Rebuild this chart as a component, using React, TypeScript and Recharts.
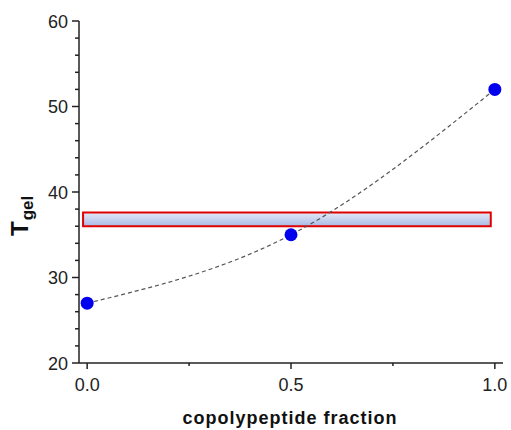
import React from "react";
import { ComposedChart, Line, XAxis, YAxis, ReferenceArea } from "recharts";

const fractions = [0, 0.5, 1];
const tgel = [27, 35, 52];
const xTicks = [0, 0.25, 0.5, 0.75, 1];
const xMajor = [0, 0.5, 1];
const yTicks = [20, 22, 24, 26, 28, 30, 32, 34, 36, 38, 40, 42, 44, 46, 48, 50, 52, 54, 56, 58, 60];
const yMajor = [20, 30, 40, 50, 60];
const bandX = [-0.01, 0.99];
const bandY = [36, 37.6];

const data = fractions.map((x, i) => ({ x, y: tgel[i] }));

const FONT = "Arial, 'Liberation Sans', Helvetica, sans-serif";

const XTick = (props: any) => {
  const { x, y, payload } = props;
  const v = payload.value;
  const major = xMajor.includes(v);
  return (
    <g>
      <line x1={x} x2={x} y1={y} y2={y + (major ? 6 : 3)} stroke="#222" strokeWidth={1.5} />
      {major && (
        <text x={x} y={y + 28} textAnchor="middle" fontSize={18} fontFamily={FONT} fill="#222">
          {v.toFixed(1)}
        </text>
      )}
    </g>
  );
};

const YTick = (props: any) => {
  const { x, y, payload } = props;
  const v = payload.value;
  const major = yMajor.includes(v);
  return (
    <g>
      <line x1={x} x2={x - (major ? 7 : 4)} y1={y} y2={y} stroke="#222" strokeWidth={1.5} />
      {major && (
        <text x={x - 11} y={y + 6.5} textAnchor="end" fontSize={18} fontFamily={FONT} fill="#222">
          {v}
        </text>
      )}
    </g>
  );
};

const YLabel = () => (
  <text
    transform="translate(28, 236) rotate(-90)"
    fontFamily={FONT}
    fontWeight="bold"
    fill="#111"
  >
    <tspan fontSize={24}>T</tspan>
    <tspan fontSize={17} dx={1} dy={5}>gel</tspan>
  </text>
);

const XLabel = () => (
  <text
    x={290}
    y={424}
    textAnchor="middle"
    fontFamily={FONT}
    fontWeight="bold"
    fontSize={18}
    letterSpacing={1}
    fill="#111"
  >
    copolypeptide fraction
  </text>
);

export default function App() {
  return (
    <div style={{ position: "absolute", left: 0, top: 0, width: 511, height: 430, background: "#fff" }}>
      <ComposedChart
        width={511}
        height={430}
        data={data}
        margin={{ top: 21, right: 8, bottom: 0, left: 0 }}
      >
        <defs>
          <linearGradient id="bandGrad" x1="0" y1="0" x2="0" y2="1">
            <stop offset="0%" stopColor="#e4eaf7" />
            <stop offset="100%" stopColor="#a9b9e4" />
          </linearGradient>
        </defs>
        <XAxis
          dataKey="x"
          type="number"
          domain={[-0.02, 1.02]}
          ticks={xTicks}
          allowDataOverflow
          height={67}
          tickSize={0}
          tickMargin={0}
          tickLine={false}
          axisLine={{ stroke: "#222", strokeWidth: 1.5 }}
          tick={<XTick />}
          interval={0}
          label={{ content: () => <XLabel /> }}
        />
        <YAxis
          type="number"
          domain={[20, 60]}
          ticks={yTicks}
          allowDataOverflow
          width={79}
          tickSize={0}
          tickMargin={0}
          tickLine={false}
          axisLine={{ stroke: "#222", strokeWidth: 1.5 }}
          tick={<YTick />}
          interval={0}
          label={{ content: () => <YLabel /> }}
        />
        <ReferenceArea
          x1={bandX[0]}
          x2={bandX[1]}
          y1={bandY[0]}
          y2={bandY[1]}
          fill="url(#bandGrad)"
          fillOpacity={1}
          stroke="#e00000"
          strokeWidth={2}
          strokeOpacity={1}
        />
        <Line
          dataKey="y"
          type="natural"
          stroke="#555"
          strokeWidth={1.2}
          strokeDasharray="4 3"
          dot={{ r: 6.5, fill: "#0000ee", stroke: "none" }}
          activeDot={false}
          isAnimationActive={false}
        />
      </ComposedChart>
    </div>
  );
}
